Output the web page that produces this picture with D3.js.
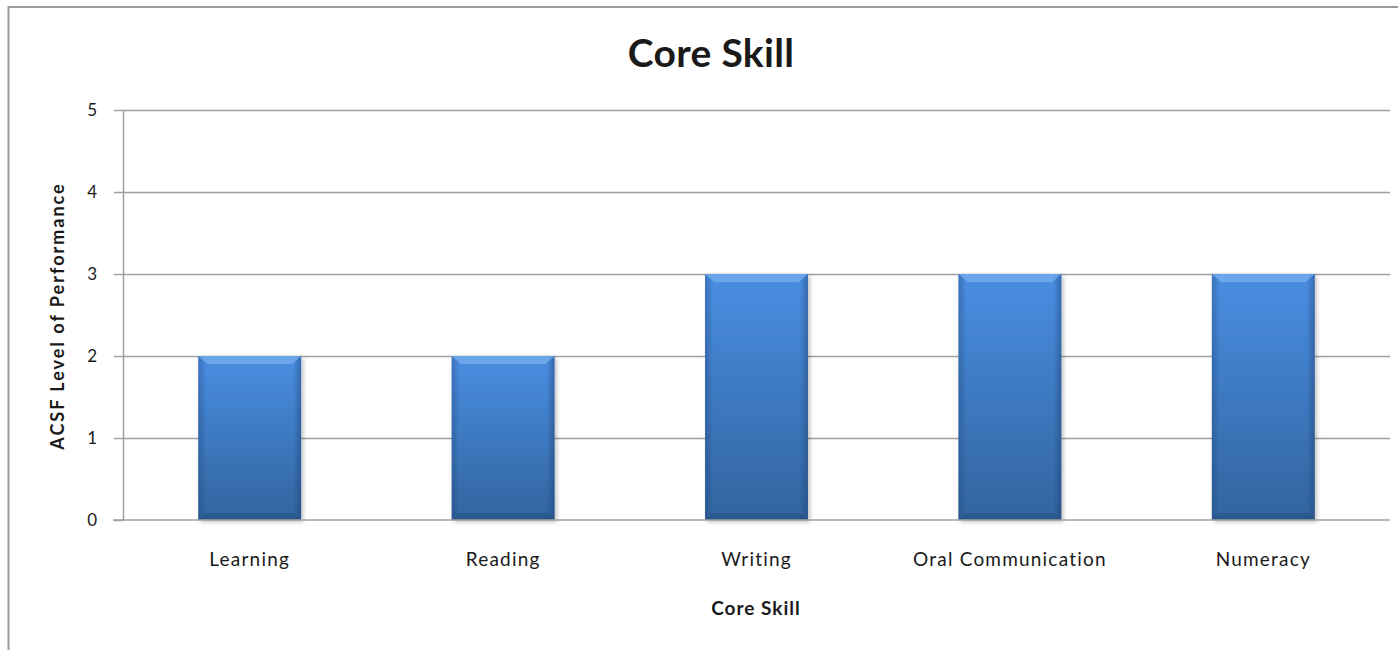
<!DOCTYPE html>
<html>
<head>
<meta charset="utf-8">
<script src="https://cdn.jsdelivr.net/npm/d3@7"></script>
<style>
  body { margin: 0; background: #fff; }
  svg text { font-family: Lato, "Open Sans", sans-serif; fill: #1a1a1a; }
</style>
</head>
<body>
<div id="chart"></div>
<script>
var skills = ['Learning', 'Reading', 'Writing', 'Oral Communication', 'Numeracy'];
var levels = [2, 2, 3, 3, 3];
var yTicks = [0, 1, 2, 3, 4, 5];

var width = 1398, height = 650;
var margin = { top: 110, right: 8, bottom: 130, left: 123 };
var w = width - margin.left - margin.right;
var h = height - margin.top - margin.bottom;

var svg = d3.select('#chart').append('svg')
  .attr('width', width)
  .attr('height', height);

// gradients for the bevelled excel-ish bars
var defs = svg.append('defs');
var vg = defs.append('linearGradient').attr('id', 'barV').attr('x1', 0).attr('y1', 0).attr('x2', 0).attr('y2', 1);
vg.append('stop').attr('offset', '0%').attr('stop-color', '#4a8ee2');
vg.append('stop').attr('offset', '100%').attr('stop-color', '#31649f');
var hg = defs.append('linearGradient').attr('id', 'barH').attr('x1', 0).attr('y1', 0).attr('x2', 1).attr('y2', 0);
hg.append('stop').attr('offset', '0%').attr('stop-color', '#1d3f70').attr('stop-opacity', 0.35);
hg.append('stop').attr('offset', '8%').attr('stop-color', '#1d3f70').attr('stop-opacity', 0);
hg.append('stop').attr('offset', '92%').attr('stop-color', '#1d3f70').attr('stop-opacity', 0);
hg.append('stop').attr('offset', '100%').attr('stop-color', '#1d3f70').attr('stop-opacity', 0.45);
var sh = defs.append('filter').attr('id', 'shadow').attr('x', '-10%').attr('y', '-10%').attr('width', '130%').attr('height', '130%');
sh.append('feDropShadow').attr('dx', 2).attr('dy', 2).attr('stdDeviation', 2).attr('flood-color', '#000').attr('flood-opacity', 0.25);

// outer chart frame
svg.append('rect')
  .attr('x', 8.5).attr('y', 7)
  .attr('width', width + 10).attr('height', height + 10)
  .attr('fill', 'none')
  .attr('stroke', '#9a9a9a')
  .attr('stroke-width', 2);

var g = svg.append('g').attr('transform', 'translate(' + margin.left + ',' + margin.top + ')');

var x = d3.scaleBand().domain(skills).range([0, w]).paddingInner(0.594).paddingOuter(0.297);
var y = d3.scaleLinear().domain([0, 5]).range([h, 0]);

// gridlines
g.append('g')
  .attr('class', 'grid')
  .call(d3.axisLeft(y).tickValues(yTicks.filter(function(d) { return d > 0; })).tickSize(-w).tickFormat(''))
  .call(function(s) {
    s.select('.domain').remove();
    s.selectAll('line').attr('stroke', '#a0a0a0').attr('stroke-width', 1.5);
  });

// bars
var bars = g.selectAll('.bar').data(levels).enter().append('g').attr('class', 'bar');
bars.append('rect')
  .attr('x', function(d, i) { return x(skills[i]); })
  .attr('y', function(d) { return y(d); })
  .attr('width', x.bandwidth())
  .attr('height', function(d) { return h - y(d); })
  .attr('fill', 'url(#barV)')
  .attr('filter', 'url(#shadow)');
bars.append('rect')
  .attr('x', function(d, i) { return x(skills[i]); })
  .attr('y', function(d) { return y(d); })
  .attr('width', x.bandwidth())
  .attr('height', function(d) { return h - y(d); })
  .attr('fill', 'url(#barH)');
// top bevel highlight
bars.append('path')
  .attr('d', function(d, i) {
    var x0 = x(skills[i]), x1 = x0 + x.bandwidth(), y0 = y(d);
    return 'M' + x0 + ',' + y0 + 'L' + x1 + ',' + y0 + 'L' + (x1 - 9) + ',' + (y0 + 8) + 'L' + (x0 + 9) + ',' + (y0 + 8) + 'Z';
  })
  .attr('fill', '#7ab0f0')
  .attr('opacity', 0.7);
// bottom bevel shade
bars.append('path')
  .attr('d', function(d, i) {
    var x0 = x(skills[i]), x1 = x0 + x.bandwidth(), y1 = h;
    return 'M' + x0 + ',' + y1 + 'L' + x1 + ',' + y1 + 'L' + (x1 - 8) + ',' + (y1 - 7) + 'L' + (x0 + 8) + ',' + (y1 - 7) + 'Z';
  })
  .attr('fill', '#1f4575')
  .attr('opacity', 0.4);

// y axis
g.append('g')
  .attr('class', 'y axis')
  .call(d3.axisLeft(y).tickValues(yTicks).tickFormat(d3.format('d')).tickSizeInner(9).tickSizeOuter(0).tickPadding(17))
  .call(function(s) {
    s.select('.domain').attr('stroke', '#a0a0a0').attr('stroke-width', 1.5);
    s.selectAll('line').attr('stroke', '#a0a0a0').attr('stroke-width', 1.5);
    s.selectAll('text').attr('font-size', 17).attr('fill', '#1a1a1a').style('font-family', 'Lato, sans-serif');
  });

// x axis
g.append('g')
  .attr('class', 'x axis')
  .attr('transform', 'translate(0,' + h + ')')
  .call(d3.axisBottom(x).tickSize(0).tickPadding(33))
  .call(function(s) {
    s.select('.domain').attr('d', 'M-10,0H' + w).attr('stroke', '#a0a0a0').attr('stroke-width', 1.5);
    s.selectAll('text').attr('font-size', 19).attr('letter-spacing', 1.2).attr('fill', '#1a1a1a').style('font-family', 'Lato, sans-serif');
  });

// titles
svg.append('text')
  .attr('x', 711).attr('y', 67)
  .attr('text-anchor', 'middle')
  .attr('font-size', 39)
  .attr('font-weight', 'bold')
  .attr('letter-spacing', 0.3)
  .text('Core Skill');

svg.append('text')
  .attr('x', 756).attr('y', 615)
  .attr('text-anchor', 'middle')
  .attr('font-size', 19)
  .attr('font-weight', 'bold')
  .attr('letter-spacing', 1)
  .text('Core Skill');

svg.append('text')
  .attr('transform', 'translate(64,316) rotate(-90)')
  .attr('text-anchor', 'middle')
  .attr('font-size', 18)
  .attr('font-weight', 'bold')
  .attr('letter-spacing', 2)
  .text('ACSF Level of Performance');
</script>
</body>
</html>
